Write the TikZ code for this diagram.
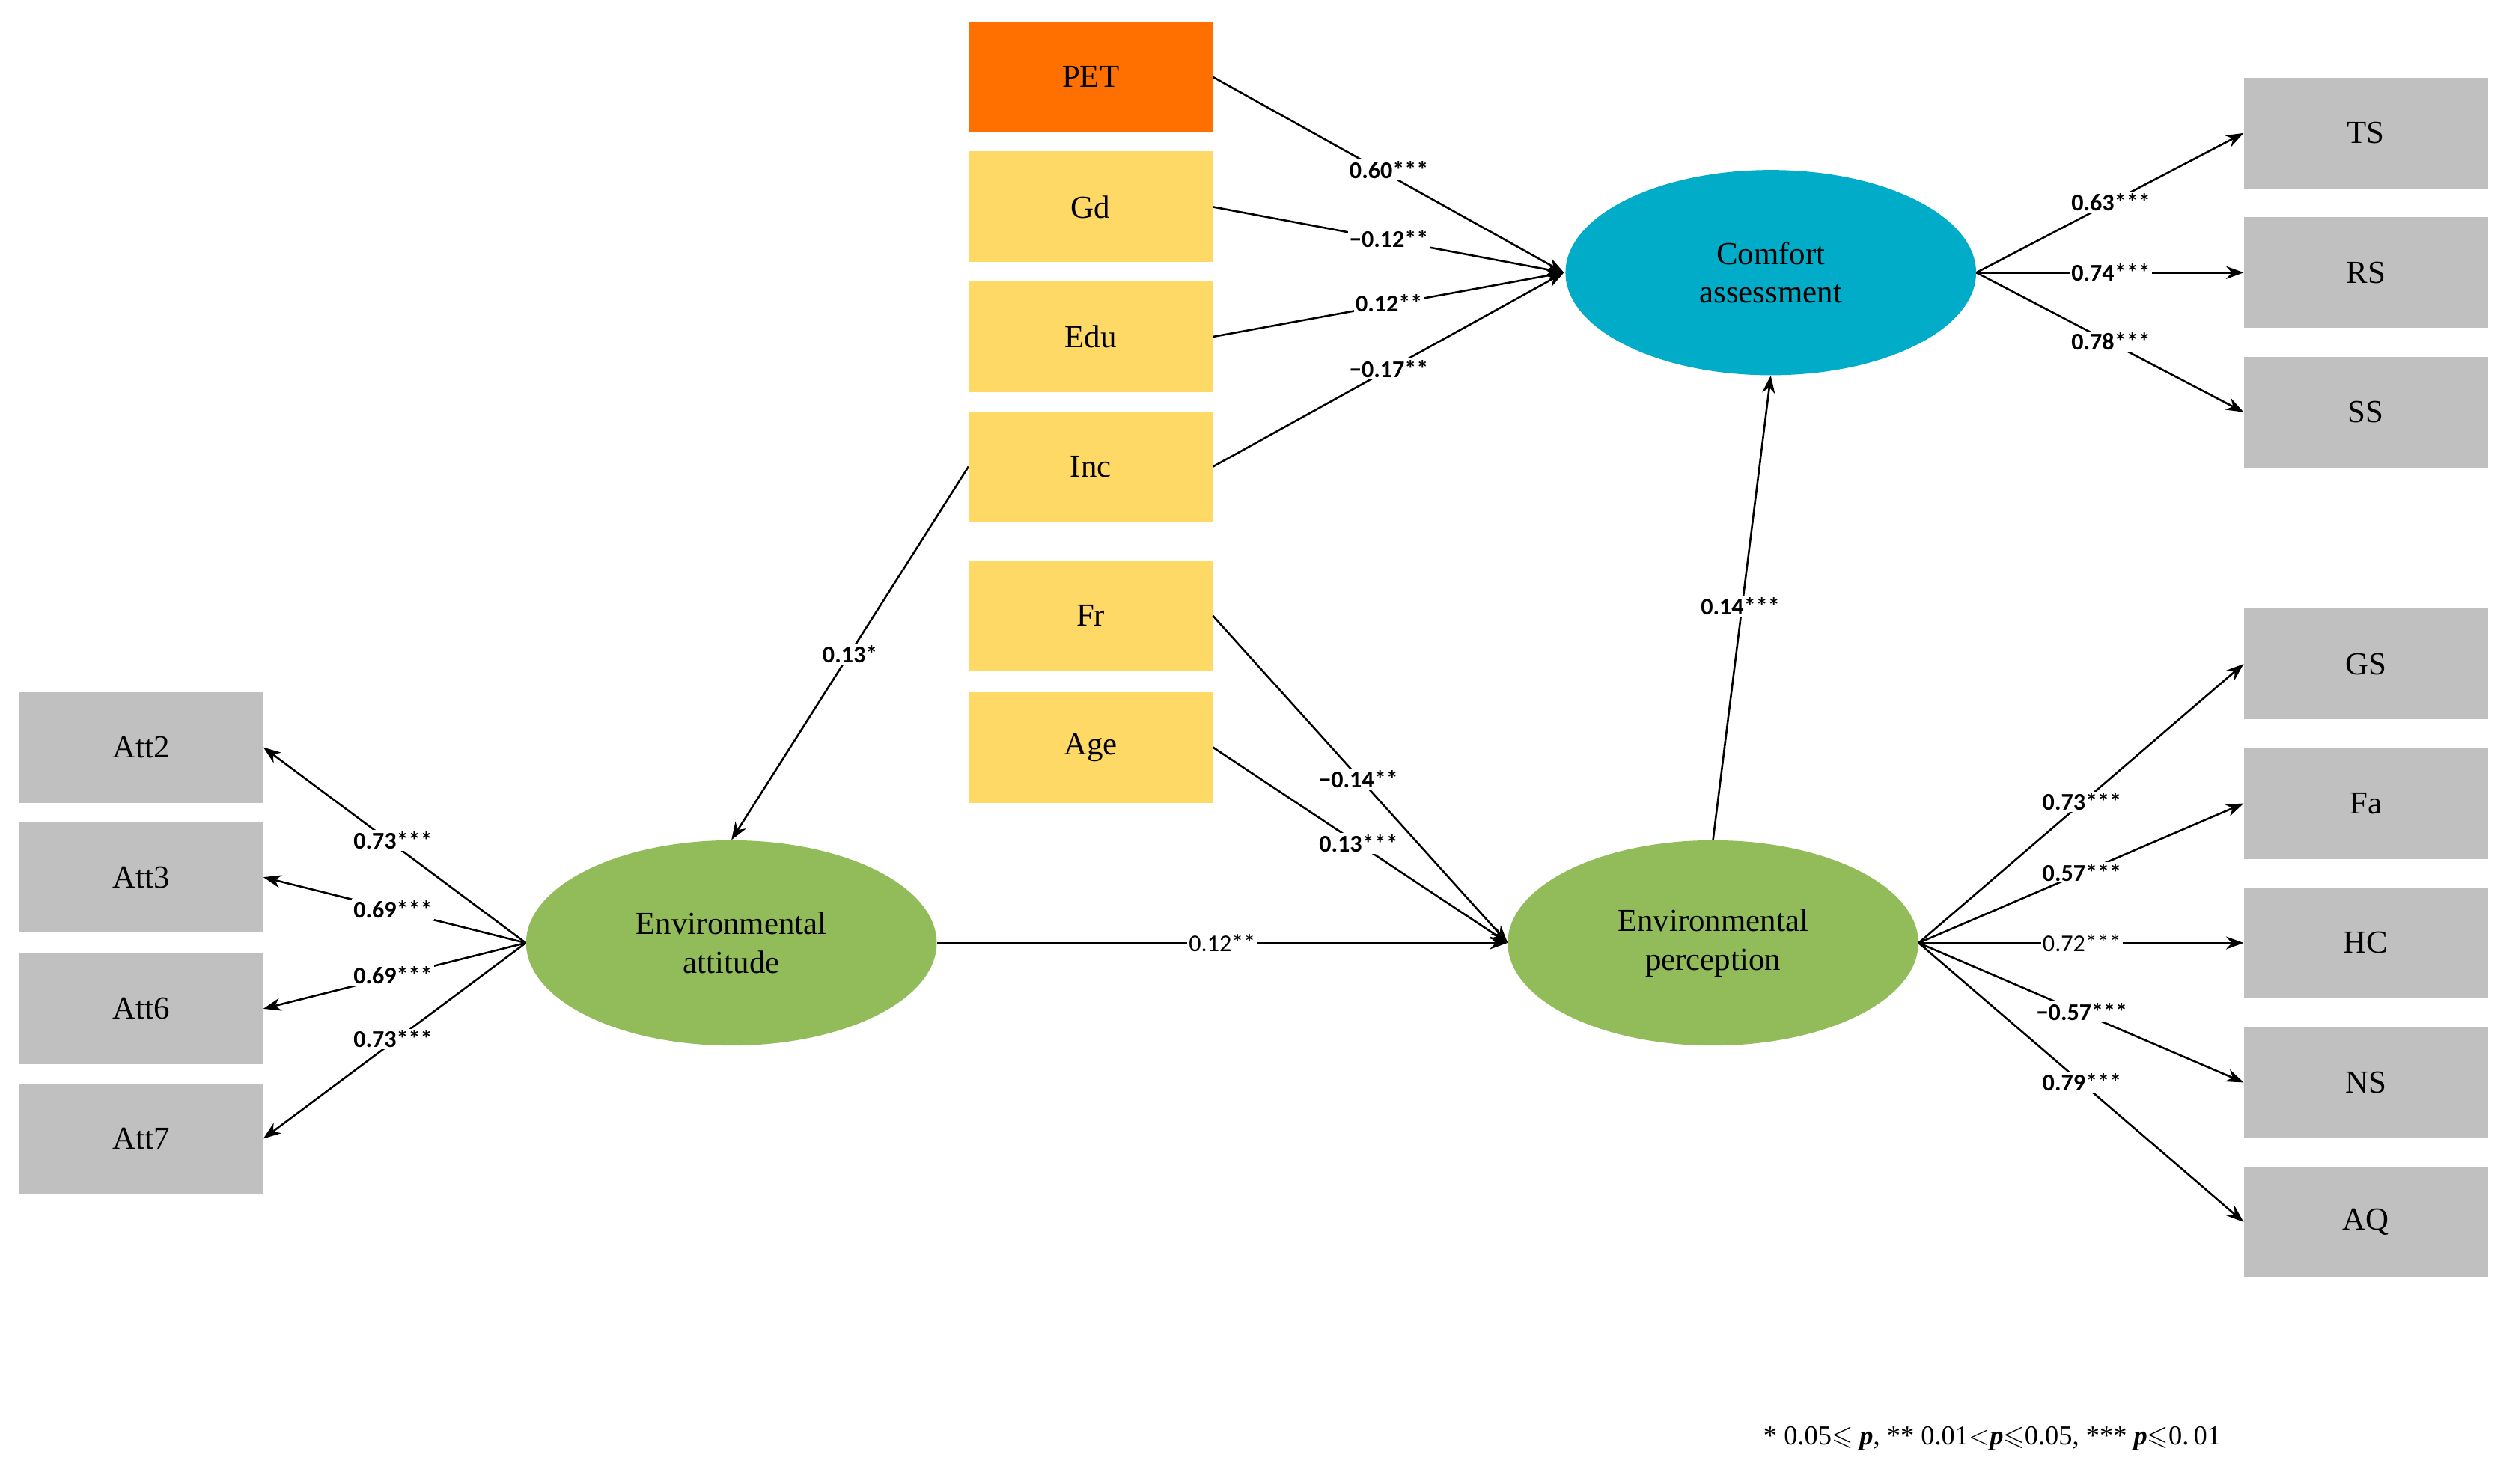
\documentclass[tikz,border=0pt]{standalone}
\usepackage{amssymb}
\usepackage{fontspec}
\setmainfont{Liberation Serif}
\newfontfamily\lab{Carlito}
\usetikzlibrary{arrows.meta,shapes.geometric}
\definecolor{org}{HTML}{FF7000}
\definecolor{yel}{HTML}{FFD966}
\definecolor{gry}{HTML}{C0C0C0}
\definecolor{blu}{HTML}{00ACC8}
\definecolor{grn}{HTML}{92BC5A}
\begin{document}
\begin{tikzpicture}[x=1pt,y=-1pt,
 box/.style={minimum width=152pt,minimum height=69pt,inner sep=0pt,font=\fontsize{20}{24}\selectfont},
 gbox/.style={box,fill=gry},
 ybox/.style={box,fill=yel},
 ell/.style={ellipse,minimum width=256pt,minimum height=128pt,inner sep=0pt,align=center,font=\fontsize{20}{24}\selectfont},
 arr/.style={line width=1.2pt,-{Stealth[length=11pt,width=8pt]}},
 lb/.style={fill=white,inner sep=1pt,font=\lab\bfseries\fontsize{15}{18}\selectfont}]
\useasboundingbox (0,0) rectangle (1568,925);
\node[box,fill=org] (pet) at (680,48) {PET};
\node[ybox] (gd) at (680,129) {Gd};
\node[ybox] (edu) at (680,210) {Edu};
\node[ybox] (inc) at (680,291) {Inc};
\node[ybox] (fr) at (680,384) {Fr};
\node[ybox] (age) at (680,466) {Age};
\node[ell,fill=blu] (ca) at (1104,170) {Comfort\\assessment};
\node[ell,fill=grn] (ea) at (456,588) {Environmental\\attitude};
\node[ell,fill=grn] (ep) at (1068,588) {Environmental\\perception};
\node[gbox] (ts) at (1475,83) {TS};
\node[gbox] (rs) at (1475,170) {RS};
\node[gbox] (ss) at (1475,257) {SS};
\node[gbox] (gs) at (1475,414) {GS};
\node[gbox] (fa) at (1475,501) {Fa};
\node[gbox] (hc) at (1475,588) {HC};
\node[gbox] (ns) at (1475,675) {NS};
\node[gbox] (aq) at (1475,762) {AQ};
\node[gbox] (a2) at (88,466) {Att2};
\node[gbox] (a3) at (88,547) {Att3};
\node[gbox] (a6) at (88,629) {Att6};
\node[gbox] (a7) at (88,710) {Att7};
\coordinate (cin) at (975,170);
\coordinate (pin) at (940,588);
\draw[arr] (pet.east) -- (cin);
\draw[arr] (gd.east) -- (cin);
\draw[arr] (edu.east) -- (cin);
\draw[arr] (inc.east) -- (cin);
\draw[arr] (inc.west) -- (ea.north);
\draw[arr] (fr.east) -- (pin);
\draw[arr] (age.east) -- (pin);
\draw[arr] (ea.east) -- (ep.west);
\draw[arr] (ep.north) -- (ca.south);
\foreach \t in {ts,rs,ss} \draw[arr] (ca.east) -- (\t.west);
\foreach \t in {gs,fa,hc,ns,aq} \draw[arr] (ep.east) -- (\t.west);
\foreach \t in {a2,a3,a6,a7} \draw[arr] (ea.west) -- (\t.east);
\node[lb] at (866,106) {0.60***};
\node[lb] at (866,149) {−0.12**};
\node[lb] at (866,189) {0.12**};
\node[lb] at (866,230) {−0.17**};
\node[lb] at (530,408) {0.13*};
\node[lb] at (847,486) {−0.14**};
\node[lb] at (847,526) {0.13***};
\node[fill=white,inner sep=1pt,font=\lab\fontsize{15}{18}\selectfont] at (762,588) {0.12**};
\node[lb] at (1085,378) {0.14***};
\node[lb] at (1316,126) {0.63***};
\node[lb] at (1316,170) {0.74***};
\node[lb] at (1316,213) {0.78***};
\node[lb] at (1298,500) {0.73***};
\node[lb] at (1298,544) {0.57***};
\node[fill=white,inner sep=1pt,font=\lab\fontsize{15}{18}\selectfont] at (1298,588) {0.72***};
\node[lb] at (1298,631) {−0.57***};
\node[lb] at (1298,675) {0.79***};
\node[lb] at (245,524) {0.73***};
\node[lb] at (245,567) {0.69***};
\node[lb] at (245,608) {0.69***};
\node[lb] at (245,648) {0.73***};
\node[font=\fontsize{17}{20}\selectfont] (fn) at (1242,897) {* 0.05$\leqslant$ \textbf{\textit{p}}, ** 0.01$<$\textbf{\textit{p}}$\leqslant$0.05, *** \textbf{\textit{p}}$\leqslant$0.\,01};
\end{tikzpicture}
\end{document}
